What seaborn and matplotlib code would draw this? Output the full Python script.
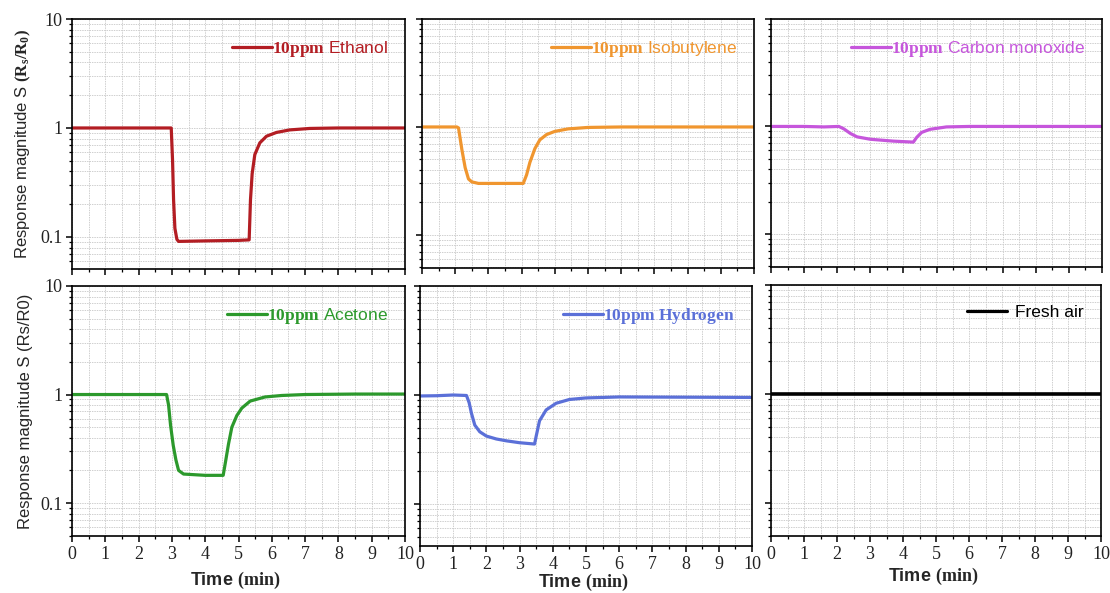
import numpy as np
import pandas as pd
import matplotlib
matplotlib.use("Agg")
import matplotlib.pyplot as plt
import matplotlib.ticker as mticker
import seaborn as sns

# ---------------- data ----------------
ethanol_t = [0, 2.98, 3.02, 3.05, 3.09, 3.15, 3.2, 4.0, 5.0, 5.32, 5.36, 5.41, 5.49, 5.64, 5.84, 6.14, 6.54, 7.14, 8.0, 10]
ethanol_s = [1.0, 1.0, 0.5, 0.22, 0.12, 0.095, 0.091, 0.092, 0.093, 0.094, 0.22, 0.38, 0.57, 0.73, 0.84, 0.91, 0.96, 0.99, 1.0, 1.0]

isobutylene_t = [0, 1.05, 1.1, 1.2, 1.3, 1.4, 1.5, 1.7, 2.5, 3.05, 3.15, 3.25, 3.4, 3.55, 3.75, 4.0, 4.4, 5.0, 6.0, 10]
isobutylene_s = [1.0, 1.0, 0.98, 0.62, 0.42, 0.33, 0.31, 0.30, 0.30, 0.30, 0.36, 0.47, 0.63, 0.76, 0.85, 0.91, 0.96, 0.99, 1.0, 1.0]

co_t = [0, 1.0, 1.6, 2.05, 2.2, 2.4, 2.6, 3.0, 3.7, 4.3, 4.4, 4.55, 4.8, 5.3, 6.0, 10]
co_s = [1.0, 1.0, 0.99, 1.0, 0.95, 0.86, 0.80, 0.76, 0.73, 0.715, 0.79, 0.88, 0.94, 0.99, 1.0, 1.0]

acetone_t = [0, 2.84, 2.9, 2.96, 3.04, 3.12, 3.2, 3.35, 4.0, 4.54, 4.62, 4.7, 4.8, 4.95, 5.1, 5.35, 5.8, 6.3, 7.0, 8.5, 10]
acetone_s = [1.0, 1.0, 0.8, 0.52, 0.34, 0.25, 0.2, 0.185, 0.18, 0.18, 0.25, 0.35, 0.5, 0.64, 0.75, 0.87, 0.95, 0.98, 1.0, 1.01, 1.01]

hydrogen_t = [0, 0.5, 1.0, 1.4, 1.48, 1.55, 1.65, 1.8, 2.0, 2.3, 2.6, 3.0, 3.45, 3.5, 3.6, 3.8, 4.1, 4.5, 5.0, 6.0, 8.0, 10]
hydrogen_s = [0.98, 0.985, 1.0, 0.99, 0.85, 0.68, 0.53, 0.46, 0.42, 0.395, 0.38, 0.365, 0.355, 0.42, 0.58, 0.73, 0.84, 0.91, 0.94, 0.96, 0.955, 0.95]

air_t = [0, 10]
air_s = [1.0, 1.0]

labels = [r"$\mathbf{10ppm}$ Ethanol", r"$\mathbf{10ppm}$ Isobutylene", r"$\mathbf{10ppm}$ Carbon monoxide",
          r"$\mathbf{10ppm}$ Acetone", r"$\mathbf{10ppm\ Hydrogen}$", "Fresh air"]
colors = ["#b31d23", "#f0962f", "#c656dc", "#2c992c", "#5b70d8", "#000000"]
series = [(ethanol_t, ethanol_s), (isobutylene_t, isobutylene_s), (co_t, co_s),
          (acetone_t, acetone_s), (hydrogen_t, hydrogen_s), (air_t, air_s)]
x_ticks = [0, 1, 2, 3, 4, 5, 6, 7, 8, 9, 10]
y_ticks = [0.1, 1, 10]
y_ticklabels = ["0.1", "1", "10"]

# ---------------- style ----------------
sns.set_style("white")
plt.rcParams["font.family"] = ["Liberation Sans", "DejaVu Sans"]
plt.rcParams["mathtext.fontset"] = "custom"
plt.rcParams["mathtext.rm"] = "Liberation Serif"
plt.rcParams["mathtext.it"] = "Liberation Serif:italic"
plt.rcParams["mathtext.bf"] = "Liberation Serif:bold"

W, H = 1110, 593
fig = plt.figure(figsize=(W / 100, H / 100), dpi=100)

# pixel boxes: left, right, top, bottom
boxes = [(72, 405, 19, 269), (422, 754, 19, 268), (771, 1102, 19, 267),
         (72, 405, 286, 536), (420, 752, 286, 546), (771, 1101, 285, 536)]
ybottoms = [0.0508, 0.0494, 0.0492, 0.0497, 0.0412, 0.0498]
xlabel_y = [-0.176, -0.142, -0.163]

for i, ((t, s), lab, col, box, yb) in enumerate(zip(series, labels, colors, boxes, ybottoms)):
    l, r, tp, bt = box
    ax = fig.add_axes([l / W, 1 - bt / H, (r - l) / W, (bt - tp) / H])
    df = pd.DataFrame({"t": t, "s": s})
    sns.lineplot(data=df, x="t", y="s", ax=ax, color=col, lw=2.6 if i == 5 else 2.3,
                 estimator=None, sort=False, label=lab)
    ax.set_yscale("log")
    ax.set_xlim(0, 10)
    ax.set_ylim(yb, 10)
    ax.xaxis.set_major_locator(mticker.FixedLocator(x_ticks))
    ax.xaxis.set_minor_locator(mticker.MultipleLocator(0.5))
    ax.yaxis.set_major_locator(mticker.FixedLocator(y_ticks))
    ax.yaxis.set_minor_locator(mticker.LogLocator(base=10, subs=np.arange(2, 10)))
    ax.yaxis.set_minor_formatter(mticker.NullFormatter())
    ax.grid(True, which="both", color="#cfcfcf", lw=0.7, ls=(0, (1.5, 1.0)))
    ax.tick_params(which="major", direction="out", length=4, width=1.1, color="black",
                   labelsize=13, pad=3, bottom=True, left=True, labelcolor="#222222")
    ax.tick_params(which="minor", direction="out", length=2.5, width=0.9, color="black",
                   bottom=True, left=True)
    for sp in ax.spines.values():
        sp.set_color("black")
        sp.set_linewidth(1.2)
    ax.set_xlabel("")
    ax.set_ylabel("")
    if i % 3 == 0:
        ax.yaxis.set_major_formatter(mticker.FixedFormatter(y_ticklabels))
        if i == 0:
            ax.set_ylabel(r"Response magnitude S $\mathbf{(R_s/R_0)}$", fontsize=12, labelpad=5)
        else:
            ax.set_ylabel("Response magnitude S (Rs/R0)", fontsize=12, labelpad=5)
    else:
        ax.tick_params(axis="y", which="both", labelleft=False)
    if i < 3:
        ax.tick_params(axis="x", which="both", labelbottom=False)
    else:
        ax.set_xlabel(r"Time $\mathbf{(min)}$", fontsize=13, fontweight="bold")
        ax.xaxis.label.set_va("center")
        ax.xaxis.set_label_coords(0.49, xlabel_y[i - 3])
    for lbl in ax.get_xticklabels() + ax.get_yticklabels():
        lbl.set_fontfamily("Liberation Serif")
    leg = ax.legend(loc="upper right", frameon=False, fontsize=12.5, handlelength=2.3,
                    handletextpad=0.0 if i < 5 else 0.5, borderaxespad=0.3,
                    bbox_to_anchor=(0.985, 0.97))
    for txt in leg.get_texts():
        txt.set_color(col)
    for ln in leg.get_lines():
        ln.set_linewidth(2.3)

fig.savefig("out.png", dpi=100)
